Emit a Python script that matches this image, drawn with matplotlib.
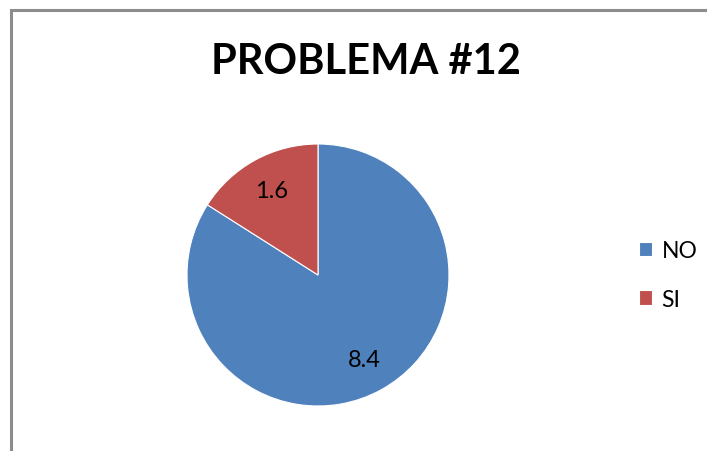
import matplotlib.pyplot as plt
from matplotlib.patches import Rectangle

categories = ["NO", "SI"]
values = [8.4, 1.6]
colors = ["#4F81BD", "#C0504D"]

W, H = 707, 452
fig = plt.figure(figsize=(W / 100, H / 100), dpi=100)
plt.rcParams['font.family'] = ['Lato', 'DejaVu Sans']

# chart border (only top and left visible in reference)
fig.patches.append(Rectangle((10.5 / W, -0.1), 1.2, (H - 10.5) / H + 0.1,
                             transform=fig.transFigure, fill=False,
                             edgecolor="#8c8c8c", linewidth=2.2))

cx, cy, r = 318, 276, 131
ax = fig.add_axes([(cx - r) / W, (H - cy - r) / H, 2 * r / W, 2 * r / H])
total = sum(values)
wedges, texts, autotexts = ax.pie(values, colors=colors, startangle=90, counterclock=False,
                                  autopct=lambda p: f"{p * total / 100:.1f}", pctdistance=0.74,
                                  wedgeprops=dict(linewidth=0.8, edgecolor="white"),
                                  textprops=dict(fontsize=17, color="black"))
ax.set_xlim(-1, 1)
ax.set_ylim(-1, 1)
ax.set_aspect("equal")

fig.text(366 / W, 1 - 62 / H, "PROBLEMA #12", ha="center", va="center",
         fontsize=30, fontweight="bold")

leg = fig.legend(wedges, categories, loc="center left", bbox_to_anchor=(618 / W, 1 - 276 / H),
                 frameon=False, fontsize=16.5, handlelength=0.6, handleheight=0.6,
                 handletextpad=0.4, labelspacing=1.2)

fig.savefig("out.png", dpi=100, facecolor="white")
